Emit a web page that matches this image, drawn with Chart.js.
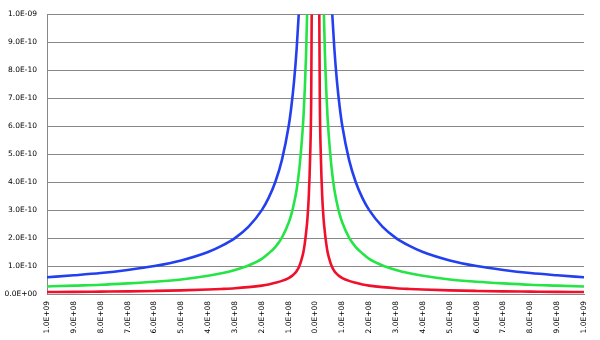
<!DOCTYPE html>
<html>
<head>
<meta charset="utf-8">
<script src="https://cdn.jsdelivr.net/npm/chart.js@4/dist/chart.umd.min.js"></script>
<style>
html,body{margin:0;padding:0;background:#fff;}
#wrap{width:600px;height:340px;position:relative;}
</style>
</head>
<body>
<div id="wrap"><canvas id="c" width="600" height="340"></canvas></div>
<script>
// x positions (full range)
const xValues = [
 -1.0e9,-9.0e8,-8.0e8,-7.0e8,-6.0e8,-5.0e8,-4.0e8,-3.5e8,-3.0e8,-2.5e8,-2.0e8,-1.75e8,-1.5e8,-1.25e8,-1.0e8,
 -9.0e7,-8.0e7,-7.0e7,-6.0e7,-5.0e7,-4.5e7,-4.0e7,-3.5e7,-3.0e7,-2.5e7,-2.0e7,-1.6e7,-1.4e7,-1.0e7,
 1.0e7,1.4e7,1.6e7,2.0e7,2.5e7,3.0e7,3.5e7,4.0e7,4.5e7,5.0e7,6.0e7,7.0e7,8.0e7,9.0e7,
 1.0e8,1.25e8,1.5e8,1.75e8,2.0e8,2.5e8,3.0e8,3.5e8,4.0e8,5.0e8,6.0e8,7.0e8,8.0e8,9.0e8,1.0e9
];
const blueValues = [
 6.0e-11,6.7e-11,7.5e-11,8.6e-11,1.0e-10,1.2e-10,1.5e-10,1.72e-10,2.0e-10,2.4e-10,3.0e-10,3.43e-10,4.0e-10,4.8e-10,6.0e-10,
 6.7e-10,7.6e-10,8.8e-10,1.04e-9,1.25e-9,1.4e-9,1.6e-9,1.8e-9,2.1e-9,2.5e-9,3.1e-9,3.8e-9,4.4e-9,6.0e-9,
 6.0e-9,4.4e-9,3.8e-9,3.1e-9,2.5e-9,2.1e-9,1.8e-9,1.6e-9,1.4e-9,1.25e-9,1.04e-9,8.8e-10,7.6e-10,6.7e-10,
 6.0e-10,4.8e-10,4.0e-10,3.43e-10,3.0e-10,2.4e-10,2.0e-10,1.72e-10,1.5e-10,1.2e-10,1.0e-10,8.6e-11,7.5e-11,6.7e-11,6.0e-11
];
const greenValues = [
 2.7e-11,3.0e-11,3.3e-11,3.8e-11,4.4e-11,5.2e-11,6.5e-11,7.4e-11,8.6e-11,1.02e-10,1.26e-10,1.45e-10,1.68e-10,2.02e-10,2.55e-10,
 2.85e-10,3.25e-10,3.75e-10,4.5e-10,5.6e-10,6.3e-10,7.3e-10,8.6e-10,1.05e-9,1.3e-9,1.65e-9,2.0e-9,2.3e-9,3.2e-9,
 3.2e-9,2.3e-9,2.0e-9,1.65e-9,1.3e-9,1.05e-9,8.6e-10,7.3e-10,6.3e-10,5.6e-10,4.5e-10,3.75e-10,3.25e-10,2.85e-10,
 2.55e-10,2.02e-10,1.68e-10,1.45e-10,1.26e-10,1.02e-10,8.6e-11,7.4e-11,6.5e-11,5.2e-11,4.4e-11,3.8e-11,3.3e-11,3.0e-11,2.7e-11
];
const redValues = [
 7.0e-12,7.5e-12,8.5e-12,9.5e-12,1.1e-11,1.3e-11,1.6e-11,1.8e-11,2.05e-11,2.45e-11,3.0e-11,3.4e-11,4.0e-11,4.7e-11,5.7e-11,
 6.3e-11,7.1e-11,8.2e-11,1.0e-10,1.3e-10,1.5e-10,1.8e-10,2.2e-10,2.7e-10,3.5e-10,4.9e-10,7.0e-10,1.03e-9,1.6e-9,
 1.6e-9,1.03e-9,7.0e-10,4.9e-10,3.5e-10,2.7e-10,2.2e-10,1.8e-10,1.5e-10,1.3e-10,1.0e-10,8.2e-11,7.1e-11,6.3e-11,
 5.7e-11,4.7e-11,4.0e-11,3.4e-11,3.0e-11,2.45e-11,2.05e-11,1.8e-11,1.6e-11,1.3e-11,1.1e-11,9.5e-12,8.5e-12,7.5e-12,7.0e-12
];
const xTickMin = -1e9, xTickMax = 1e9, xTickStep = 1e8;
const yTickMin = 0, yTickMax = 1e-9, yTickStep = 1e-10;

function sci(v){
  const s = Math.abs(v).toExponential(1).toUpperCase();
  const m = s.match(/^([\d.]+)E([+-])(\d+)$/);
  if(!m) return s;
  let e = m[3]; if(e.length<2) e='0'+e;
  return m[1]+'E'+m[2]+e;
}
function toPts(ys){ return xValues.map((x,i)=>({x:x,y:ys[i]})); }

const mk = (data,color)=>({data:toPts(data),borderColor:color,borderWidth:2.6,pointRadius:0,fill:false,cubicInterpolationMode:'monotone'});

new Chart(document.getElementById('c'),{
  type:'line',
  data:{datasets:[mk(blueValues,'#2340f0'),mk(greenValues,'#25e445'),mk(redValues,'#f0102c')]},
  options:{
    responsive:false,animation:false,
    layout:{padding:{top:13,right:13,left:0,bottom:0}},
    plugins:{legend:{display:false},tooltip:{enabled:false}},
    scales:{
      x:{type:'linear',min:xTickMin,max:xTickMax,
        grid:{display:false,drawTicks:false},
        border:{display:true,color:'#888',width:1},
        ticks:{stepSize:xTickStep,autoSkip:false,maxRotation:90,minRotation:90,padding:7,
          color:'#000',font:{family:'DejaVu Sans',size:7.5},callback:v=>sci(v)},
        afterFit:s=>{s.height=46;}
      },
      y:{min:yTickMin,max:yTickMax,
        grid:{color:'#888',lineWidth:1,drawTicks:false},
        border:{display:true,color:'#888',width:1},
        ticks:{stepSize:yTickStep,padding:10,color:'#000',font:{family:'DejaVu Sans',size:7.5},callback:v=>sci(v)},
        afterFit:s=>{s.width=47;}
      }
    }
  }
});
</script>
</body>
</html>
